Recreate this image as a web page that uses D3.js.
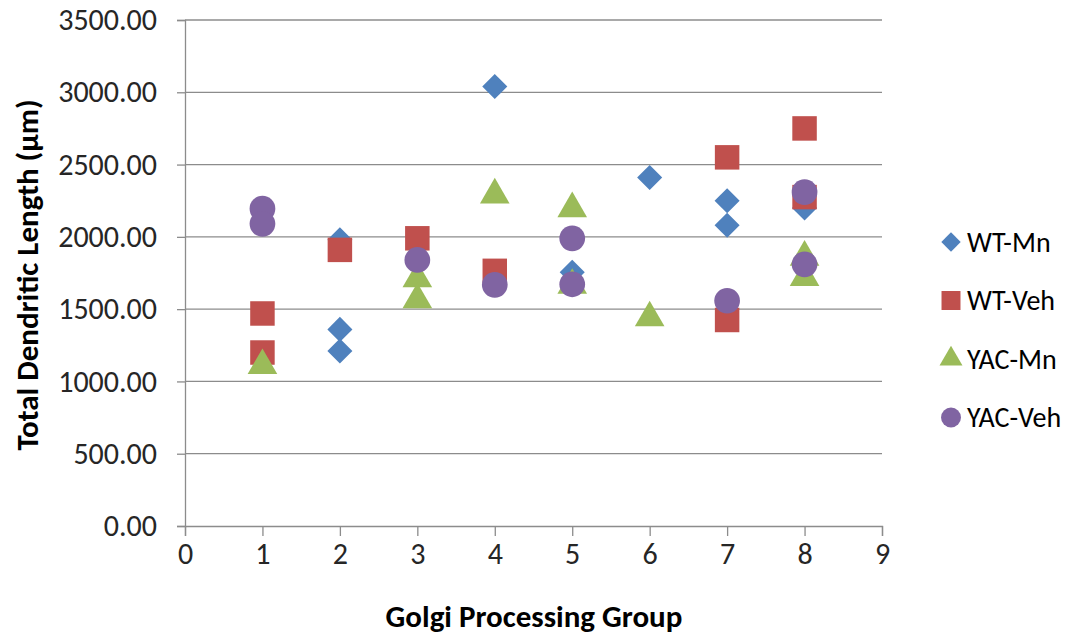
<!DOCTYPE html>
<html>
<head>
<meta charset="utf-8">
<script src="https://cdn.jsdelivr.net/npm/d3@7"></script>
<style>
  body { margin: 0; background: #fff; }
  svg { display: block; font-family: Carlito, Calibri, "Open Sans", sans-serif; }
</style>
</head>
<body>
<div id="grafico"></div>
<script>
// Dados (grupo, comprimento)
const seriesNomes = ["WT-Mn", "WT-Veh", "YAC-Mn", "YAC-Veh"];
const wtMn   = [[2, 1980], [2, 1360], [2, 1210], [3, 1840], [4, 3040], [5, 1755], [6, 2410], [7, 2250], [7, 2080], [8, 2200]];
const wtVeh  = [[1, 1470], [1, 1200], [2, 1910], [3, 1990], [4, 1765], [7, 2550], [7, 1425], [8, 2750], [8, 2275]];
const yacMn  = [[1, 1110], [3, 1710], [3, 1565], [4, 2290], [5, 2195], [5, 1665], [6, 1440], [8, 1860], [8, 1720]];
const yacVeh = [[1, 2195], [1, 2090], [3, 1840], [4, 1668], [5, 1990], [5, 1672], [7, 1558], [8, 2310], [8, 1810]];
const yTicks = [0, 500, 1000, 1500, 2000, 2500, 3000, 3500];
const xTicks = [0, 1, 2, 3, 4, 5, 6, 7, 8, 9];

const cores = ["#4F81BD", "#C0504D", "#9BBB59", "#8064A2"];
const simbolos = [d3.symbolDiamond2, d3.symbolSquare, d3.symbolTriangle, d3.symbolCircle];
const tamanhos = [400, 600, 380, 520];

const largura = 1088, altura = 637;
const margem = { top: 20, right: 206, bottom: 111, left: 185 };
const w = largura - margem.left - margem.right;
const h = altura - margem.top - margem.bottom;

const svg = d3.select("#grafico").append("svg")
    .attr("width", largura)
    .attr("height", altura);

const g = svg.append("g")
    .attr("transform", `translate(${margem.left},${margem.top})`);

const x = d3.scaleLinear().domain([0, 9]).range([0, w]);
const y = d3.scaleLinear().domain([0, 3500]).range([h, 0]);

// Linhas de grade
g.append("g")
    .selectAll("line")
    .data(yTicks.slice(1))
    .join("line")
    .attr("x1", 0).attr("x2", w)
    .attr("y1", d => y(d)).attr("y2", d => y(d))
    .attr("stroke", "#8c8c8c")
    .attr("stroke-width", 1.3);

// Eixo Y
const eixoY = g.append("g")
    .call(d3.axisLeft(y).tickValues(yTicks).tickSize(8).tickPadding(20).tickFormat(d3.format(".2f")));
eixoY.selectAll("text").attr("font-size", 30).attr("fill", "#262626");

// Eixo X
const eixoX = g.append("g")
    .attr("transform", `translate(0,${h})`)
    .call(d3.axisBottom(x).tickValues(xTicks).tickSize(10).tickPadding(7).tickFormat(d3.format("d")));
eixoX.selectAll("text").attr("font-size", 30).attr("fill", "#262626");

[eixoX, eixoY].forEach(e => {
    e.selectAll("line, path").attr("stroke", "#8c8c8c").attr("stroke-width", 1.3);
    e.attr("font-family", null);
});

// Pontos
[wtMn, wtVeh, yacMn, yacVeh].forEach((serie, i) => {
    g.append("g")
        .selectAll("path")
        .data(serie)
        .join("path")
        .attr("transform", d => `translate(${x(d[0])},${y(d[1])})`)
        .attr("d", d3.symbol().type(simbolos[i]).size(tamanhos[i]))
        .attr("fill", cores[i]);
});

// Títulos dos eixos
svg.append("text")
    .attr("x", 534)
    .attr("y", 627)
    .attr("text-anchor", "middle")
    .attr("font-size", 31)
    .attr("font-weight", "bold")
    .attr("fill", "#000")
    .text("Golgi Processing Group");

svg.append("text")
    .attr("transform", `translate(38,275) rotate(-90)`)
    .attr("text-anchor", "middle")
    .attr("font-size", 31)
    .attr("font-weight", "bold")
    .attr("fill", "#000")
    .text("Total Dendritic Length (µm)");

// Legenda
const legenda = svg.append("g")
    .attr("transform", "translate(951,242)");

const itens = legenda.selectAll("g")
    .data(seriesNomes)
    .join("g")
    .attr("transform", (d, i) => `translate(0,${i * 58.5})`);

itens.append("path")
    .attr("d", (d, i) => d3.symbol().type(simbolos[i]).size(tamanhos[i] * 0.6)())
    .attr("fill", (d, i) => cores[i]);

itens.append("text")
    .attr("x", 16)
    .attr("dy", "0.35em")
    .attr("font-size", 28)
    .attr("fill", "#000")
    .text(d => d);
</script>
</body>
</html>
